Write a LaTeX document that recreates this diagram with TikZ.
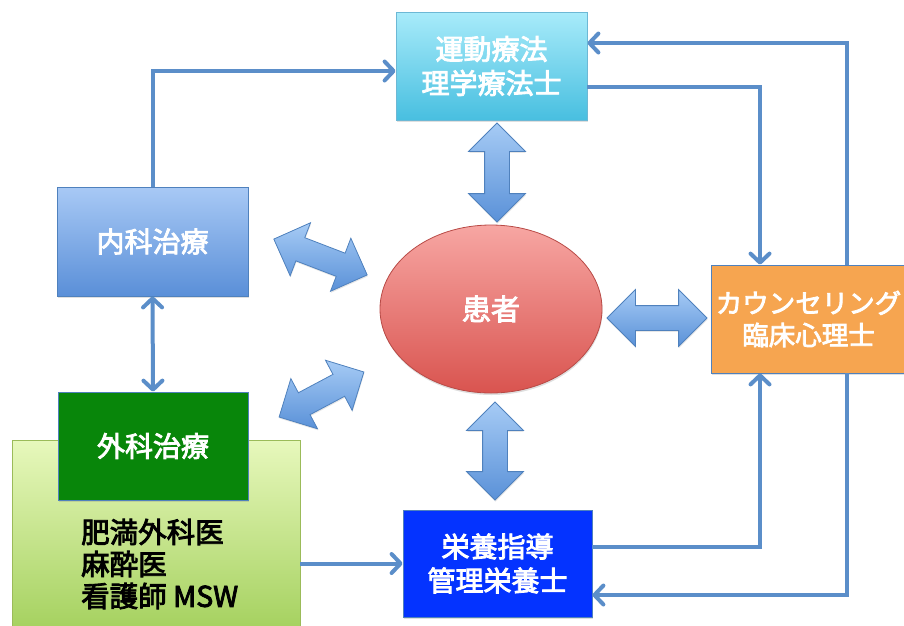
\documentclass[tikz,border=0pt]{standalone}
\usepackage{fontspec}
\setmainfont{Noto Sans CJK JP}[FakeBold=3]
\usetikzlibrary{arrows.meta,shapes.arrows,shapes.geometric,shadows,calc}
\definecolor{connc}{HTML}{5B8EC9}
\definecolor{boxborder}{HTML}{4F81BD}
\definecolor{undotop}{HTML}{A8EBFA}
\definecolor{undobot}{HTML}{48BFE0}
\definecolor{undoborder}{HTML}{6CB8D5}
\definecolor{naikatop}{HTML}{A8C9F5}
\definecolor{naikabot}{HTML}{5A8FD8}
\definecolor{kanjatop}{HTML}{F7A6A3}
\definecolor{kanjabot}{HTML}{D9544F}
\definecolor{kanjaborder}{HTML}{B84A46}
\definecolor{counselfill}{HTML}{F6A550}
\definecolor{greentop}{HTML}{E7F8BC}
\definecolor{greenbot}{HTML}{A5D15F}
\definecolor{greenborder}{HTML}{9BBB59}
\definecolor{gekafill}{HTML}{08860A}
\definecolor{eiyoufill}{HTML}{0433FF}
\definecolor{fattop}{HTML}{A6CBF5}
\definecolor{fatbot}{HTML}{5A91D8}
\begin{document}
\begin{tikzpicture}[x=1pt,y=-1pt,
  boxbase/.style={rectangle, line width=0.8pt, inner sep=0pt, align=center, text=white,
    font=\fontsize{28}{34}\selectfont,
    drop shadow={shadow xshift=0.5pt, shadow yshift=-2pt, opacity=0.25}},
  conn/.style={draw=connc, line width=4pt, line cap=butt, line join=miter},
  tipb/.tip={Straight Barb[length=9pt,width=19pt,line cap=round,line join=round]},
  arr/.style={-tipb},
  fat/.style={double arrow, draw=boxborder, line width=0.8pt, top color=fattop, bottom color=fatbot,
    inner xsep=0pt, inner ysep=12pt, double arrow head extend=16pt, double arrow tip angle=90,
    drop shadow={shadow xshift=0.5pt, shadow yshift=-1.5pt, opacity=0.2}},
]
\useasboundingbox (0,0) rectangle (904,625);
% boxes
\node[boxbase, draw=undoborder, top color=undotop, bottom color=undobot,
  minimum width=191pt, minimum height=108pt] (undo) at (491.5,66) {運動療法\\理学療法士};
\node[boxbase, draw=boxborder, top color=naikatop, bottom color=naikabot,
  minimum width=191pt, minimum height=109pt] (naika) at (152.5,241.5) {内科治療};
\node[ellipse, draw=kanjaborder, line width=0.8pt, top color=kanjatop, bottom color=kanjabot,
  minimum width=222pt, minimum height=168pt, inner sep=0pt, text=white,
  font=\fontsize{29}{34}\selectfont,
  drop shadow={shadow xshift=0.5pt, shadow yshift=-2pt, opacity=0.25}] (kanja) at (491,309) {患者};
\node[boxbase, draw=boxborder, fill=counselfill, font=\fontsize{26.5}{32}\selectfont,
  minimum width=195pt, minimum height=108pt] (counsel) at (808.5,319) {カウンセリング\\臨床心理士};
\node[rectangle, draw=greenborder, line width=0.8pt, top color=greentop, bottom color=greenbot,
  minimum width=288pt, minimum height=190pt, inner sep=0pt,
  drop shadow={shadow xshift=0.5pt, shadow yshift=-2pt, opacity=0.25}] (green) at (156,535) {};
\node[boxbase, draw=boxborder, fill=gekafill,
  minimum width=190pt, minimum height=108pt] (geka) at (153,446) {外科治療};
\node[anchor=west, align=left, inner sep=0pt, text=black, font=\fontsize{28.5}{32}\selectfont]
  (staff) at (81,564) {肥満外科医\\麻酔医\\看護師 MSW};
\node[boxbase, draw=boxborder, fill=eiyoufill,
  minimum width=189pt, minimum height=107pt] (eiyou) at (497.5,563.5) {栄養指導\\管理栄養士};
% fat double arrows
\node[fat, minimum height=99pt, rotate=90] (fa1) at (497,172.5) {};
\node[fat, minimum height=100pt, rotate=-21] (fa2) at (320.5,257) {};
\node[fat, minimum height=96pt, rotate=28] (fa3) at (321.5,394.5) {};
\node[fat, minimum height=100pt] (fa4) at (657,318) {};
\node[fat, minimum height=98pt, rotate=90] (fa5) at (495,451) {};
% connectors
\draw[conn,arr] (naika.north) |- ([yshift=-5pt]undo.west);
\draw[conn,arr] ([yshift=-21pt]undo.east) -| ([xshift=-48.5pt]counsel.north);
\draw[conn,arr] ([xshift=38.5pt]counsel.north) |- ([yshift=23pt]undo.east);
\draw[conn,arr] ([xshift=38.5pt]counsel.south) |- ([yshift=-31.5pt]eiyou.east);
\draw[conn,arr] ([yshift=16.5pt]eiyou.east) -| ([xshift=-48.5pt]counsel.south);
\draw[conn,arr] (green.east |- eiyou.west) -- (eiyou.west);
\draw[conn,tipb-tipb] (naika.south) -- (geka.north);
\end{tikzpicture}
\end{document}
